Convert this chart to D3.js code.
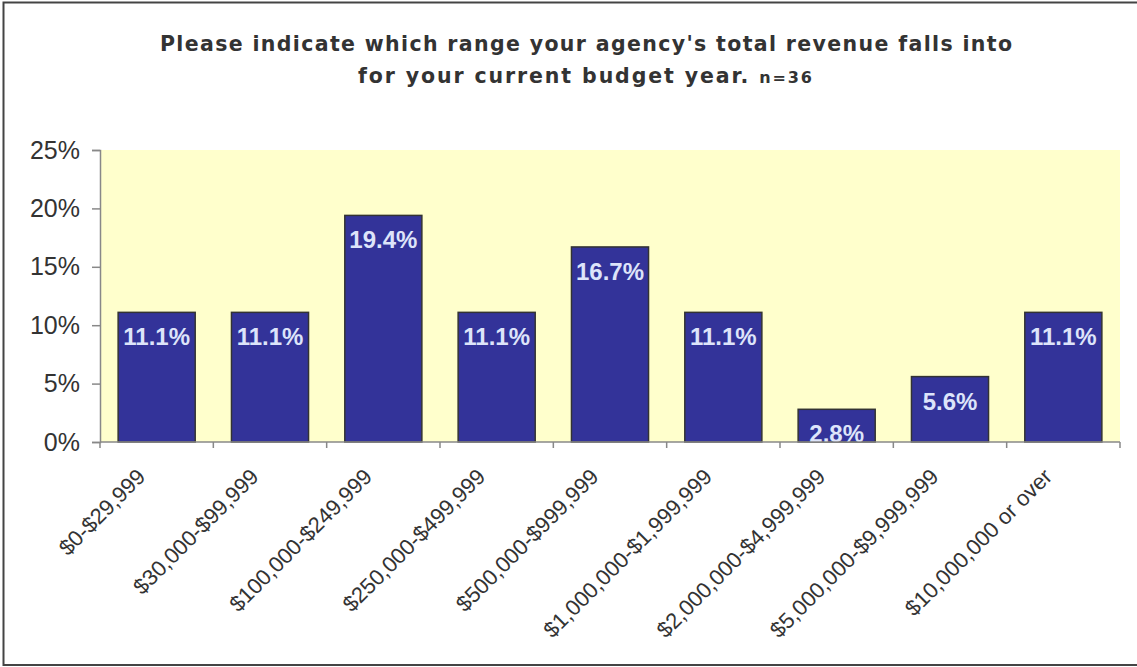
<!DOCTYPE html>
<html>
<head>
<meta charset="utf-8">
<script src="https://cdn.jsdelivr.net/npm/d3@7"></script>
<style>
  html, body { margin: 0; padding: 0; background: #fff; }
  svg { display: block; }
</style>
</head>
<body>
<svg id="chart" width="1137" height="667"></svg>
<script>
// Revenue ranges reported by agencies (share of respondents, n=36)
const categories = [
  "$0-$29,999",
  "$30,000-$99,999",
  "$100,000-$249,999",
  "$250,000-$499,999",
  "$500,000-$999,999",
  "$1,000,000-$1,999,999",
  "$2,000,000-$4,999,999",
  "$5,000,000-$9,999,999",
  "$10,000,000 or over"
];
const values = [11.1, 11.1, 19.4, 11.1, 16.7, 11.1, 2.8, 5.6, 11.1];
const yTicks = [0, 5, 10, 15, 20, 25];
const titleLines = [
  "Please indicate which range your agency's total revenue falls into",
  "for your current budget year."
];
const sampleNote = "n=36";

const svg = d3.select("#chart");
const W = 1137, H = 667;
const plot = { left: 100, right: 1120, top: 150, bottom: 442 };

// Outer frame (right edge runs past the canvas)
svg.append("rect")
  .attr("x", 3.5).attr("y", 2.5)
  .attr("width", W + 10).attr("height", 662.5)
  .attr("fill", "#fff")
  .attr("stroke", "#444").attr("stroke-width", 2);

const x = d3.scaleBand()
  .domain(categories)
  .range([plot.left, plot.right])
  .paddingInner(0.32)
  .paddingOuter(0.16);

const y = d3.scaleLinear()
  .domain([0, 25])
  .range([plot.bottom, plot.top]);

// Plot background
svg.append("rect")
  .attr("x", plot.left).attr("y", plot.top)
  .attr("width", plot.right - plot.left)
  .attr("height", plot.bottom - plot.top)
  .attr("fill", "#FFFFCC");

// Clip for value labels that spill below the baseline
svg.append("clipPath").attr("id", "plotClip")
  .append("rect")
  .attr("x", plot.left).attr("y", plot.top)
  .attr("width", plot.right - plot.left)
  .attr("height", plot.bottom - plot.top);

// Bars
svg.append("g").selectAll("rect")
  .data(values)
  .join("rect")
  .attr("x", (d, i) => x(categories[i]))
  .attr("y", d => y(d))
  .attr("width", x.bandwidth())
  .attr("height", d => y(0) - y(d))
  .attr("fill", "#333399")
  .attr("stroke", "#333")
  .attr("stroke-width", 1.5);

// Value labels inside the top of each bar
svg.append("g").attr("clip-path", "url(#plotClip)")
  .selectAll("text")
  .data(values)
  .join("text")
  .attr("x", (d, i) => x(categories[i]) + x.bandwidth() / 2)
  .attr("y", d => y(d) + 33)
  .attr("text-anchor", "middle")
  .attr("font-family", "Liberation Sans, Arial, sans-serif")
  .attr("font-weight", "bold")
  .attr("font-size", 24)
  .attr("fill", "#DDE4FA")
  .text(d => d.toFixed(1) + "%");

// Y axis
const yAxis = svg.append("g")
  .attr("transform", `translate(${plot.left},0)`)
  .call(d3.axisLeft(y).tickValues(yTicks).tickFormat(d => d + "%").tickSize(8).tickPadding(12));
yAxis.select(".domain").attr("stroke", "#888").attr("stroke-width", 1.5);
yAxis.selectAll(".tick line").attr("stroke", "#888").attr("stroke-width", 1.5);
yAxis.selectAll(".tick text")
  .attr("font-family", "Liberation Sans, Arial, sans-serif")
  .attr("font-size", 25)
  .attr("fill", "#333");

// X axis: ticks at band boundaries
const boundaries = categories.map(c => x(c) - x.step() * x.paddingInner() / 2)
  .concat([plot.right]);
svg.append("line")
  .attr("x1", plot.left).attr("x2", plot.right)
  .attr("y1", plot.bottom).attr("y2", plot.bottom)
  .attr("stroke", "#888").attr("stroke-width", 1.5);
svg.append("g").selectAll("line")
  .data(boundaries)
  .join("line")
  .attr("x1", d => d).attr("x2", d => d)
  .attr("y1", plot.bottom).attr("y2", plot.bottom + 6)
  .attr("stroke", "#888").attr("stroke-width", 1.5);

// Rotated category labels
svg.append("g").selectAll("text")
  .data(categories)
  .join("text")
  .attr("transform", d => `translate(${x(d) + x.bandwidth() / 2 - 10},${plot.bottom + 36}) rotate(-45)`)
  .attr("text-anchor", "end")
  .attr("font-family", "Liberation Sans, Arial, sans-serif")
  .attr("font-size", 22)
  .attr("fill", "#333")
  .text(d => d);

// Title
const title = svg.append("g")
  .attr("font-family", "DejaVu Sans, Verdana, sans-serif")
  .attr("font-weight", "bold")
  .attr("fill", "#333");
title.append("text")
  .attr("x", 586).attr("y", 51)
  .attr("text-anchor", "middle")
  .attr("font-size", 20.5)
  .attr("textLength", 852)
  .attr("lengthAdjust", "spacing")
  .text(titleLines[0]);
const t2 = title.append("text")
  .attr("x", 585).attr("y", 83)
  .attr("text-anchor", "middle")
  .attr("font-size", 20.5)
  .attr("textLength", 454)
  .attr("lengthAdjust", "spacing");
t2.append("tspan").text(titleLines[1] + " ");
t2.append("tspan").attr("font-size", 16).text(sampleNote);
</script>
</body>
</html>
